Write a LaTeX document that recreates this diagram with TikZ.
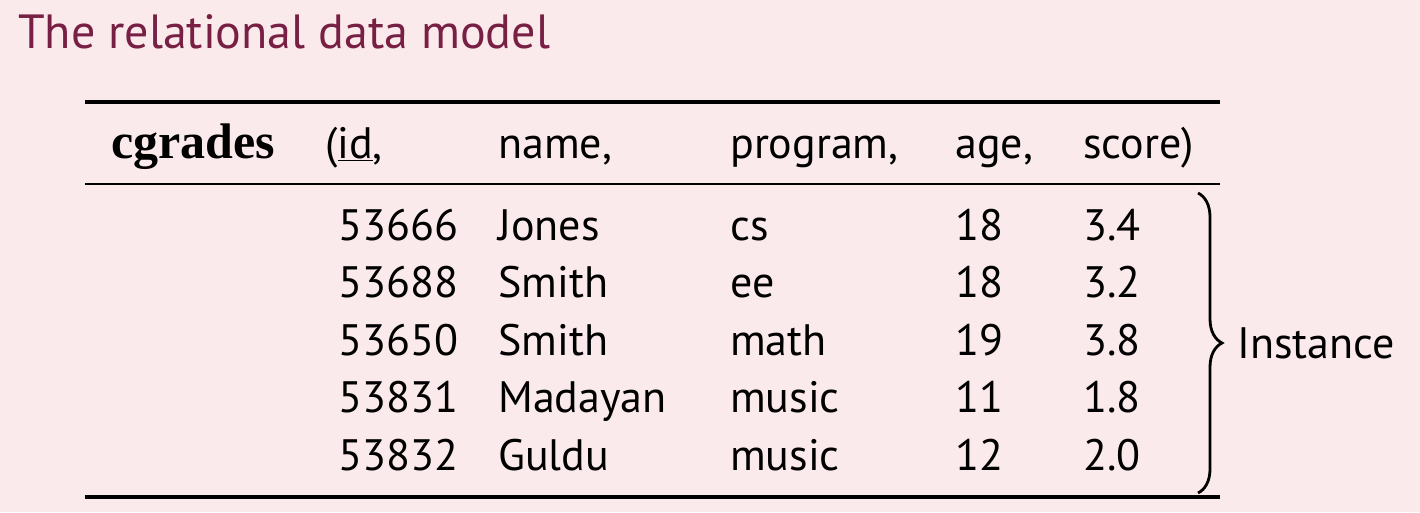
\documentclass[tikz,border=0pt]{standalone}
\usepackage{fontspec}
\setmainfont{PT Sans}
\newfontfamily\cgfont{Liberation Serif}
\usetikzlibrary{decorations.pathreplacing}
\definecolor{bgpink}{RGB}{251,234,235}
\definecolor{titlered}{RGB}{120,32,68}
\begin{document}
\begin{tikzpicture}[x=1pt,y=-1pt,
  cell/.style={anchor=base west, inner sep=0pt, font=\fontsize{44}{44}\selectfont},
  headcell/.style={cell},
  rulethick/.style={line width=3.4pt},
  rulethin/.style={line width=2pt},
  bracestyle/.style={decorate, decoration={brace, amplitude=24pt}, line width=2.8pt}]
\fill[bgpink] (0,0) rectangle (1420,512);
\useasboundingbox (0,0) rectangle (1420,512);
\node[anchor=base west, inner sep=0pt, text=titlered, font=\fontsize{48}{48}\selectfont] (title) at (18,48) {The relational data model};
% rules
\coordinate (tl) at (85,102); \coordinate (tr) at (1220,102);
\coordinate (ml) at (85,184); \coordinate (mr) at (1220,184);
\coordinate (bl) at (85,497); \coordinate (br) at (1220,497);
\draw[rulethick] (tl) -- (tr);
\draw[rulethin] (ml) -- (mr);
\draw[rulethick] (bl) -- (br);
% header
\node[anchor=base west, inner sep=0pt, font=\fontsize{50}{50}\selectfont\cgfont\bfseries] (rel) at (111,158) {cgrades};
\node[headcell] (hid) at (325,158) {(\underline{id},};
\node[headcell] (hname) at (498,158) {name,};
\node[headcell] (hprog) at (730,158) {program,};
\node[headcell] (hage) at (955,158) {age,};
\node[headcell] (hscore) at (1083,158) {score)};
% rows
\foreach \a/\b/\c/\d/\e [count=\n] in {53666/Jones/cs/18/3.4, 53688/Smith/ee/18/3.2, 53650/Smith/math/19/3.8, 53831/Madayan/music/11/1.8, 53832/Guldu/music/12/2.0}{
  \node[cell] (id\n) at (338,182.5+57.5*\n) {\a};
  \node[cell] (nm\n) at (498,182.5+57.5*\n) {\b};
  \node[cell] (pg\n) at (730,182.5+57.5*\n) {\c};
  \node[cell] (ag\n) at (955,182.5+57.5*\n) {\d};
  \node[cell] (sc\n) at (1083,182.5+57.5*\n) {\e};
}
% brace
\coordinate (bt) at (1198,193);
\coordinate (bb) at (1198,493);
\draw[bracestyle] (bt) -- (bb);
\node[cell] (inst) at (1237,358) {Instance};
\end{tikzpicture}
\end{document}
